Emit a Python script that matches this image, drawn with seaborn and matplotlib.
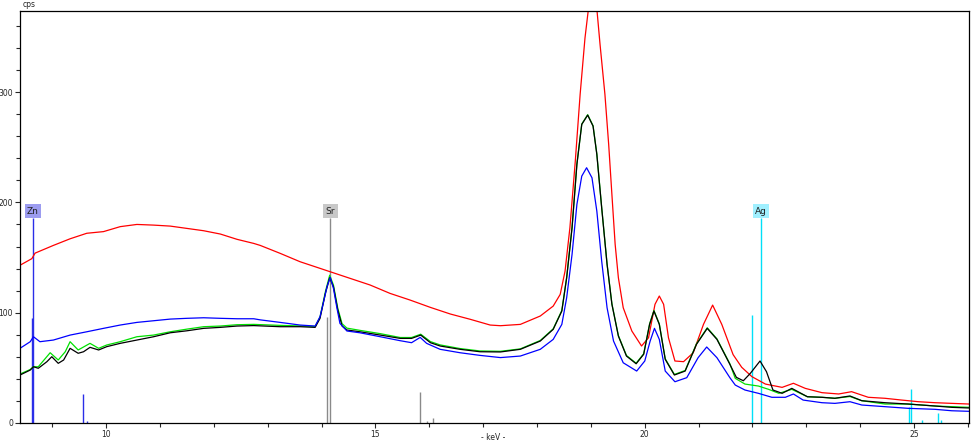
import numpy as np
import pandas as pd
import seaborn as sns
import matplotlib.pyplot as plt
from matplotlib.ticker import MultipleLocator

# spectrum data (keV, cps)
red_kev = [8.40, 8.62, 8.68, 9.02, 9.33, 9.64, 9.95, 10.26, 10.57, 10.88, 11.19, 11.50, 11.81,
           12.12, 12.43, 12.74, 12.86, 13.23, 13.60, 13.97, 14.16, 14.53, 14.90, 15.27, 15.64,
           16.02, 16.39, 16.76, 17.13, 17.32, 17.69, 18.06, 18.30, 18.43, 18.52, 18.61, 18.71,
           18.80, 18.89, 18.97, 19.03, 19.10, 19.17, 19.26, 19.33, 19.39, 19.45, 19.51, 19.60,
           19.76, 19.94, 20.07, 20.19, 20.27, 20.35, 20.44, 20.56, 20.72, 20.90, 21.09, 21.26,
           21.43, 21.64, 21.80, 21.99, 22.24, 22.55, 22.76, 22.98, 23.29, 23.60, 23.84, 24.15,
           24.46, 24.77, 25.08, 25.39, 25.70, 26.02]
red_cps = [143, 149, 154, 161, 167, 172, 173.5, 178, 180, 179.4, 178.5, 176.4, 174.3,
           171.3, 166.5, 162.8, 161, 153.8, 146.2, 140.2, 137.1, 131.1, 125.1, 117.5, 111.5,
           104.8, 98.8, 94.0, 88.8, 88.2, 89.4, 97, 106, 116.6, 137.7, 177, 237.4,
           297.9, 349, 382, 393, 381, 343, 298, 252.5, 207, 162, 131.7, 104.5,
           83.4, 69.8, 77.3, 107.6, 115.1, 107.6, 77.3, 56.2, 55.6, 63.7, 89.4, 106.9,
           89.4, 62, 50.5, 42.0, 35.3, 32.3, 36.0, 31.4, 27.5, 26.3, 28.4, 23.3,
           22.4, 20.8, 19.3, 18.4, 17.8, 17.2]

black_kev = [8.40, 8.59, 8.65, 8.74, 8.90, 8.99, 9.11, 9.21, 9.33, 9.48, 9.58, 9.70, 9.86,
             10.01, 10.26, 10.57, 10.88, 11.19, 11.50, 11.81, 12.12, 12.43, 12.74, 13.23, 13.60,
             13.88, 13.97, 14.07, 14.15, 14.22, 14.30, 14.38, 14.47, 14.71, 15.09, 15.46, 15.67,
             15.84, 16.02, 16.20, 16.57, 16.94, 17.32, 17.69, 18.06, 18.30, 18.46, 18.55, 18.65,
             18.74, 18.83, 18.94, 19.04, 19.11, 19.20, 19.30, 19.39, 19.51, 19.66, 19.84, 19.98,
             20.09, 20.17, 20.27, 20.38, 20.55, 20.75, 20.96, 21.16, 21.34, 21.58, 21.70, 21.83,
             21.96, 22.14, 22.26, 22.38, 22.55, 22.73, 23.02, 23.29, 23.53, 23.81, 24.03, 24.46,
             24.89, 25.39, 25.70, 26.02]
black_cps = [43.5, 48, 51, 49.6, 55.6, 60.1, 54.1, 57.1, 67.7, 63.2, 64.6, 68.6, 66.2,
             69.2, 72.2, 75.2, 78.2, 81.8, 83.6, 85.8, 86.7, 87.9, 88.3, 87.3, 87.3,
             86.7, 94.8, 117.5, 131.7, 123.5, 102.4, 87.9, 84.3, 82.7, 79.7, 76.7, 76.7,
             79.7, 72.8, 69.8, 66.8, 64.6, 64.4, 66.8, 74.3, 84.9, 101.5, 131.7, 177,
             234.4, 270.7, 279.1, 269.1, 243.5, 195.1, 143.8, 107.6, 78.8, 60.7, 53.7, 62.3,
             89.4, 101.5, 89.4, 57.7, 43.5, 47.1, 71.3, 85.8, 75.8, 53.2, 41.4, 38.3,
             45.0, 56.2, 46.5, 29.9, 26.9, 31.4, 23.8, 23.3, 22.4, 24.5, 20.2, 18.4,
             17.2, 15.4, 14.2, 13.6]

green_kev = [8.40, 8.59, 8.65, 8.74, 8.96, 9.11, 9.24, 9.33, 9.48, 9.70, 9.86, 10.01, 10.26,
             10.57, 10.88, 11.19, 11.50, 11.81, 12.12, 12.43, 12.74, 13.23, 13.60, 13.88, 13.97,
             14.07, 14.15, 14.22, 14.30, 14.38, 14.47, 14.71, 15.09, 15.46, 15.67, 15.84, 16.02,
             16.20, 16.57, 16.94, 17.32, 17.69, 18.06, 18.30, 18.46, 18.55, 18.65, 18.74, 18.83,
             18.94, 19.04, 19.11, 19.20, 19.30, 19.39, 19.51, 19.66, 19.84, 19.98, 20.09, 20.17,
             20.27, 20.38, 20.55, 20.75, 20.96, 21.16, 21.34, 21.58, 21.68, 21.86, 22.11, 22.30,
             22.49, 22.73, 23.02, 23.29, 23.53, 23.81, 24.03, 24.46, 24.89, 25.39, 26.02]
green_cps = [44.4, 48.5, 51, 51, 63.7, 57.1, 64.6, 73.7, 66.2, 72.2, 67.7, 70.7, 73.7,
             78.2, 79.7, 82.7, 85.1, 87.3, 87.9, 89.1, 89.4, 88.5, 88.0, 87.5, 96,
             119, 134, 125, 104, 90, 86, 84, 81, 77.5, 77.5, 80.5, 73.8,
             70.8, 67.5, 65.3, 65, 67.2, 74.8, 85.4, 102, 132, 177.5, 235, 271,
             279.5, 269.5, 244, 195.5, 144.3, 108, 79.3, 61.2, 54.2, 62.8, 89.9, 102,
             89.9, 58.2, 44, 47.6, 71.8, 86.3, 76.3, 53.7, 40.5, 35.3, 33.5, 30.5,
             26.9, 30.5, 23.8, 23.3, 22.4, 24.0, 20.2, 17.2, 17.2, 15.4, 14.2]

blue_kev = [8.40, 8.59, 8.65, 8.77, 9.02, 9.33, 9.64, 9.95, 10.26, 10.57, 10.88, 11.19, 11.50,
            11.81, 12.12, 12.43, 12.74, 12.86, 13.23, 13.60, 13.88, 13.97, 14.03, 14.10, 14.16,
            14.22, 14.28, 14.34, 14.47, 14.71, 15.09, 15.46, 15.67, 15.83, 15.95, 16.20, 16.57,
            16.94, 17.32, 17.69, 18.06, 18.30, 18.46, 18.55, 18.65, 18.74, 18.83, 18.92, 19.02,
            19.11, 19.20, 19.30, 19.42, 19.60, 19.85, 20.00, 20.10, 20.18, 20.27, 20.38, 20.56,
            20.78, 20.99, 21.15, 21.34, 21.58, 21.68, 21.86, 22.11, 22.36, 22.61, 22.76, 22.94,
            23.29, 23.53, 23.81, 24.03, 24.46, 24.89, 25.39, 25.70, 26.02]
blue_cps = [67.7, 73.7, 78.2, 73.7, 75.2, 79.7, 82.7, 85.8, 88.8, 91.2, 92.7, 94.2, 94.9,
            95.4, 94.9, 94.5, 94.5, 93.5, 91.2, 88.8, 87.9, 96.3, 108.5, 123.5, 132.0,
            122, 105.4, 90.3, 83.4, 81.8, 78.2, 74.6, 72.8, 77.6, 72.2, 66.8, 63.7,
            61.3, 59.3, 60.7, 66.8, 75.8, 89.4, 113.6, 152.9, 198.2, 223.8, 231.4, 222.3,
            192.1, 146.8, 104.5, 74.3, 54.6, 47.1, 56.2, 74.3, 85.8, 75.8, 47.1, 37.4,
            41.1, 59.2, 68.9, 59.2, 41.1, 34.4, 29.9, 26.9, 23.3, 23.3, 26.3, 20.8,
            18.4, 17.8, 19.3, 16.3, 14.8, 13.3, 12.4, 11.1, 10.6]

# element marker lines (keV, height in cps)
zn_kev = [8.616, 8.638, 9.57, 9.65]
zn_cps = [95, 186, 26.3, 1.5]
sr_kev = [14.10, 14.165, 15.835, 15.96, 16.07]
sr_cps = [96.3, 186, 28.1, 2, 4.8]
ag_kev = [21.99, 22.16, 24.91, 24.94, 25.14, 25.45, 25.50]
ag_cps = [97.9, 186, 14.8, 30.8, 2.4, 8.8, 2.4]

element_names = ["Zn", "Sr", "Ag"]
element_label_kev = [8.638, 14.165, 22.16]

sns.set_style("white")
plt.rcParams['font.family'] = ['DejaVu Sans']

fig = plt.figure(figsize=(9.75, 4.45), dpi=100)
ax = fig.add_axes([20 / 975, 22 / 445, 949 / 975, 412 / 445])

# element lines
ax.vlines(zn_kev, 0, zn_cps, color='#2a2ee8', lw=1.0)
ax.vlines(sr_kev, 0, sr_cps, color='#8a8a8a', lw=1.0)
ax.vlines(ag_kev, 0, ag_cps, color='#00e0f8', lw=1.0)

# spectra
sns.lineplot(x=red_kev, y=red_cps, color='#ff0000', lw=0.9, ax=ax)
sns.lineplot(x=green_kev, y=green_cps, color='#00e000', lw=0.9, ax=ax)
sns.lineplot(x=black_kev, y=black_cps, color='#000000', lw=0.9, ax=ax)
sns.lineplot(x=blue_kev, y=blue_cps, color='#0000ff', lw=0.9, ax=ax)

label_bg = ['#9c9cf0', '#c8c8c8', '#a0f0ff']
for name, e, bg in zip(element_names, element_label_kev, label_bg):
    ax.text(e, 192, name, ha='center', va='center', fontsize=6.5, color='#202020',
            bbox=dict(boxstyle='square,pad=0.25', fc=bg, ec='none'))

ax.set_xlim(8.40, 26.02)
ax.set_ylim(0, 373.5)
ax.xaxis.set_major_locator(MultipleLocator(5))
ax.xaxis.set_minor_locator(MultipleLocator(1))
ax.yaxis.set_major_locator(MultipleLocator(100))
ax.yaxis.set_minor_locator(MultipleLocator(20))
ax.tick_params(axis='both', which='both', direction='out', labelsize=5.5, width=0.8, pad=1.5)
ax.tick_params(axis='both', which='major', length=3.5)
ax.tick_params(axis='both', which='minor', length=3)
ax.tick_params(axis='x', which='both', bottom=True)
ax.tick_params(axis='y', which='both', left=True)
for s in ax.spines.values():
    s.set_color('black')
    s.set_linewidth(0.9)
ax.set_xlabel("")
ax.set_ylabel("")

ax.text(0.003, 1.006, "cps", transform=ax.transAxes, fontsize=5.5, ha='left', va='bottom')
fig.text(493 / 975, 7 / 445, "- keV -", fontsize=5.5, ha='center', va='center')

fig.savefig("out.png", dpi=100)
